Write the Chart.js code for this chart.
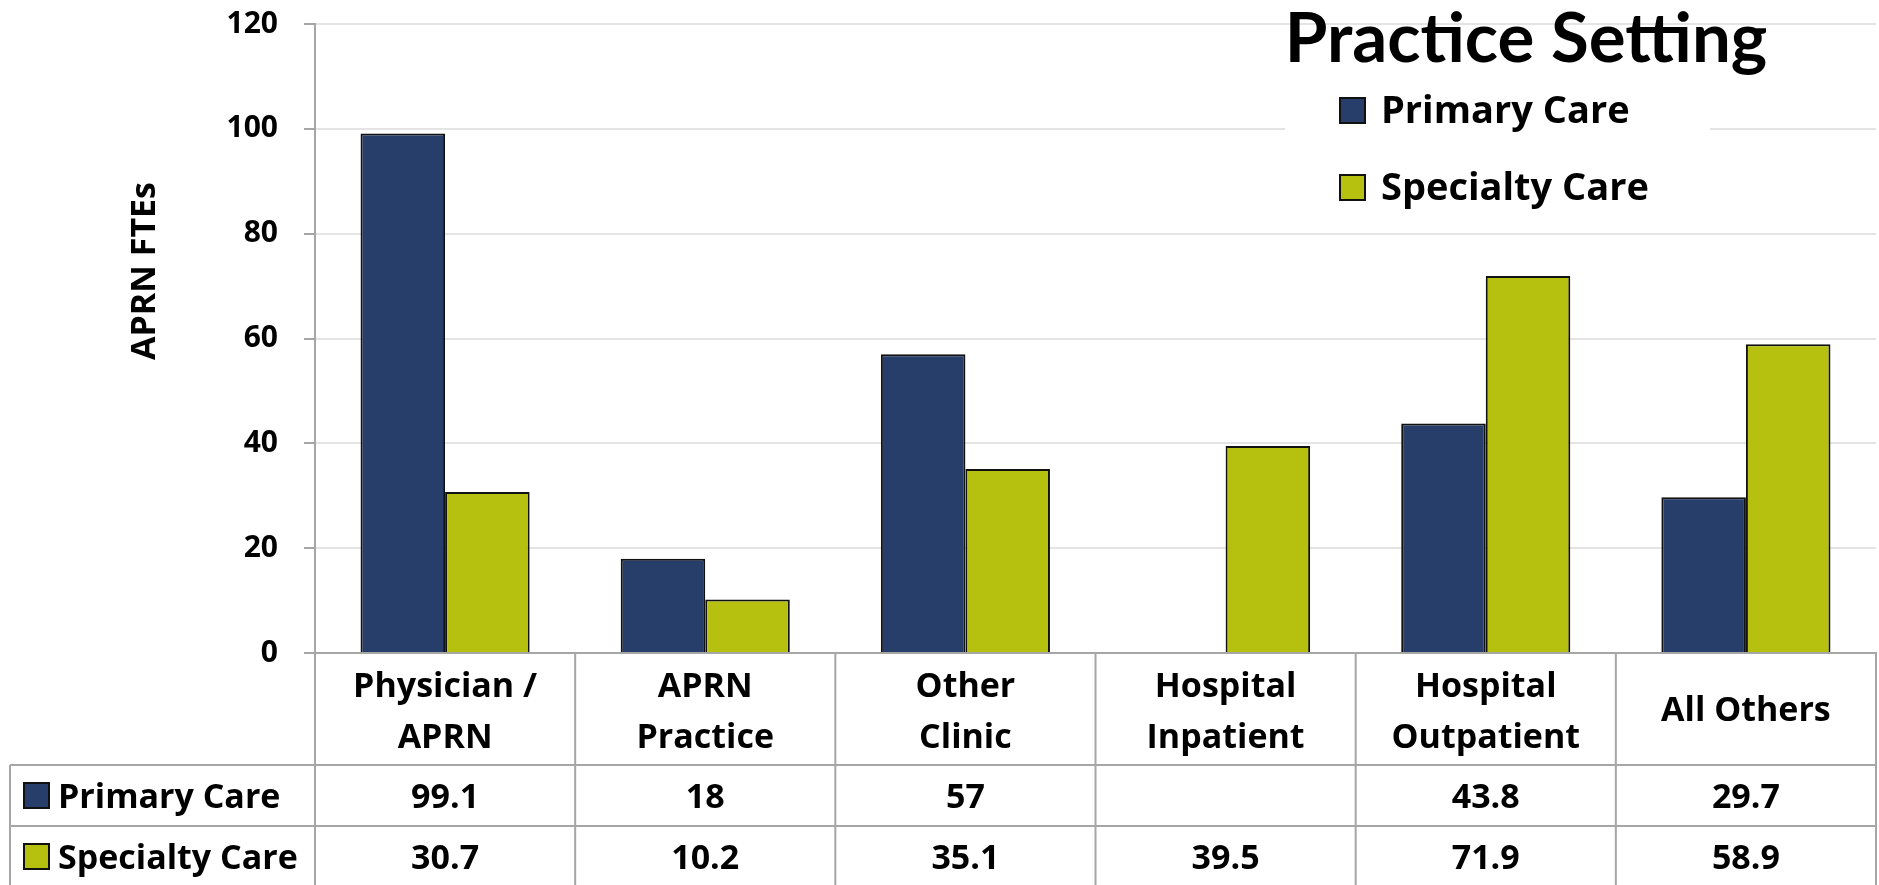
<!DOCTYPE html>
<html>
<head>
<meta charset="utf-8">
<script src="https://cdn.jsdelivr.net/npm/chart.js@4.4.0/dist/chart.umd.min.js"></script>
<style>
  html, body { margin: 0; padding: 0; background: #fff; }
  #wrap { width: 1879px; height: 885px; }
</style>
</head>
<body>
<div id="wrap"><canvas id="fteChart" width="1879" height="885"></canvas></div>
<script>
// data
const categories = [['Physician /', 'APRN'], ['APRN', 'Practice'], ['Other', 'Clinic'], ['Hospital', 'Inpatient'], ['Hospital', 'Outpatient'], ['All Others']];
const seriesNames = ['Primary Care', 'Specialty Care'];
const primaryCare = [99.1, 18, 57, null, 43.8, 29.7];
const specialtyCare = [30.7, 10.2, 35.1, 39.5, 71.9, 58.9];
const yTicks = [0, 20, 40, 60, 80, 100, 120];
const chartTitle = 'Practice Setting';
const axisTitle = 'APRN FTEs';

const FONT = '"Open Sans", Lato, sans-serif';
const navy = '#273E6A';
const olive = '#B6C00F';
const lineGray = '#a6a6a6';
const seriesColors = [navy, olive];
const seriesData = [primaryCare, specialtyCare];

function keyBox(ctx, x, y, s, color) {
    ctx.fillStyle = color;
    ctx.fillRect(x, y, s, s);
    ctx.strokeStyle = '#111';
    ctx.lineWidth = 2;
    ctx.strokeRect(x, y, s, s);
}

// title, legend, axis title and the data table under the plot
const extrasPlugin = {
    id: 'extras',
    afterDraw(chart) {
        const ctx = chart.ctx;
        const xs = chart.scales.x;
        const area = chart.chartArea;
        const h = chart.height;
        const step = xs.getPixelForValue(1) - xs.getPixelForValue(0);
        const row1 = area.bottom + 112;
        const row2 = row1 + 61;
        const left = 10;

        ctx.save();

        // table grid
        ctx.strokeStyle = lineGray;
        ctx.lineWidth = 2;
        ctx.beginPath();
        for (let i = 0; i <= categories.length; i++) {
            const bx = xs.getPixelForValue(i) - step / 2;
            ctx.moveTo(bx, area.bottom);
            ctx.lineTo(bx, h);
        }
        ctx.moveTo(left, row1); ctx.lineTo(area.right, row1);
        ctx.moveTo(left, row2); ctx.lineTo(area.right, row2);
        ctx.moveTo(left, row1); ctx.lineTo(left, h);
        ctx.stroke();

        // header labels
        ctx.fillStyle = '#000';
        ctx.font = 'bold 34px ' + FONT;
        ctx.textAlign = 'center';
        ctx.textBaseline = 'alphabetic';
        categories.forEach((lines, i) => {
            const cx = xs.getPixelForValue(i);
            if (lines.length === 1) {
                ctx.fillText(lines[0], cx, area.bottom + 68);
            } else {
                ctx.fillText(lines[0], cx, area.bottom + 44);
                ctx.fillText(lines[1], cx, area.bottom + 95);
            }
        });

        // rows
        [row1, row2].forEach((top, r) => {
            keyBox(ctx, 24, top + 18, 25, seriesColors[r]);
            ctx.fillStyle = '#000';
            ctx.textAlign = 'left';
            ctx.fillText(seriesNames[r], 58, top + 43);
            ctx.textAlign = 'center';
            seriesData[r].forEach((v, i) => {
                if (v === null) return;
                ctx.fillText(String(v), xs.getPixelForValue(i), top + 43);
            });
        });

        // y axis title
        ctx.save();
        ctx.translate(145, 271);
        ctx.rotate(-Math.PI / 2);
        ctx.textAlign = 'center';
        ctx.textBaseline = 'middle';
        ctx.font = 'bold 34px ' + FONT;
        ctx.fillText(axisTitle, 0, 0);
        ctx.restore();

        // legend panel
        ctx.fillStyle = '#fff';
        ctx.fillRect(1285, 64, 425, 158);
        ctx.font = 'bold 38px ' + FONT;
        ctx.textAlign = 'left';
        seriesNames.forEach((name, r) => {
            const y = r === 0 ? 98 : 175;
            keyBox(ctx, 1340, y, 25, seriesColors[r]);
            ctx.fillStyle = '#000';
            ctx.fillText(name, 1381, y + 25);
        });

        // chart title
        ctx.font = 'bold 69px Lato, ' + FONT;
        ctx.textAlign = 'center';
        ctx.fillText(chartTitle, 1526, 62);

        ctx.restore();
    }
};

const chart = new Chart(document.getElementById('fteChart').getContext('2d'), {
    type: 'bar',
    data: {
        labels: categories.map(c => c.join(' ')),
        datasets: [{
            label: seriesNames[0],
            data: primaryCare,
            backgroundColor: navy,
            borderColor: '#111',
            borderWidth: 2
        }, {
            label: seriesNames[1],
            data: specialtyCare,
            backgroundColor: olive,
            borderColor: '#111',
            borderWidth: 2
        }]
    },
    options: {
        responsive: false,
        animation: false,
        devicePixelRatio: 1,
        layout: {
            padding: { top: 24, right: 3, bottom: 232, left: 0 }
        },
        datasets: {
            bar: { categoryPercentage: 0.65, barPercentage: 1.0 }
        },
        plugins: {
            legend: { display: false },
            tooltip: { enabled: false }
        },
        scales: {
            x: {
                offset: true,
                grid: { display: false, drawTicks: false },
                border: { color: lineGray, width: 2 },
                ticks: { display: false },
                afterFit: s => { s.height = 0; }
            },
            y: {
                min: 0,
                max: 120,
                afterBuildTicks: s => { s.ticks = yTicks.map(v => ({ value: v })); },
                afterFit: s => {
                    s.width = 315;
                    s.paddingTop = 0;
                    s.paddingBottom = 0;
                },
                grid: { color: '#e4e4e4', lineWidth: 2, tickLength: 11, tickColor: lineGray },
                border: { color: lineGray, width: 2 },
                ticks: {
                    padding: 26,
                    color: '#000',
                    font: { family: FONT, size: 30, weight: 'bold' }
                }
            }
        }
    },
    plugins: [extrasPlugin]
});
</script>
</body>
</html>
